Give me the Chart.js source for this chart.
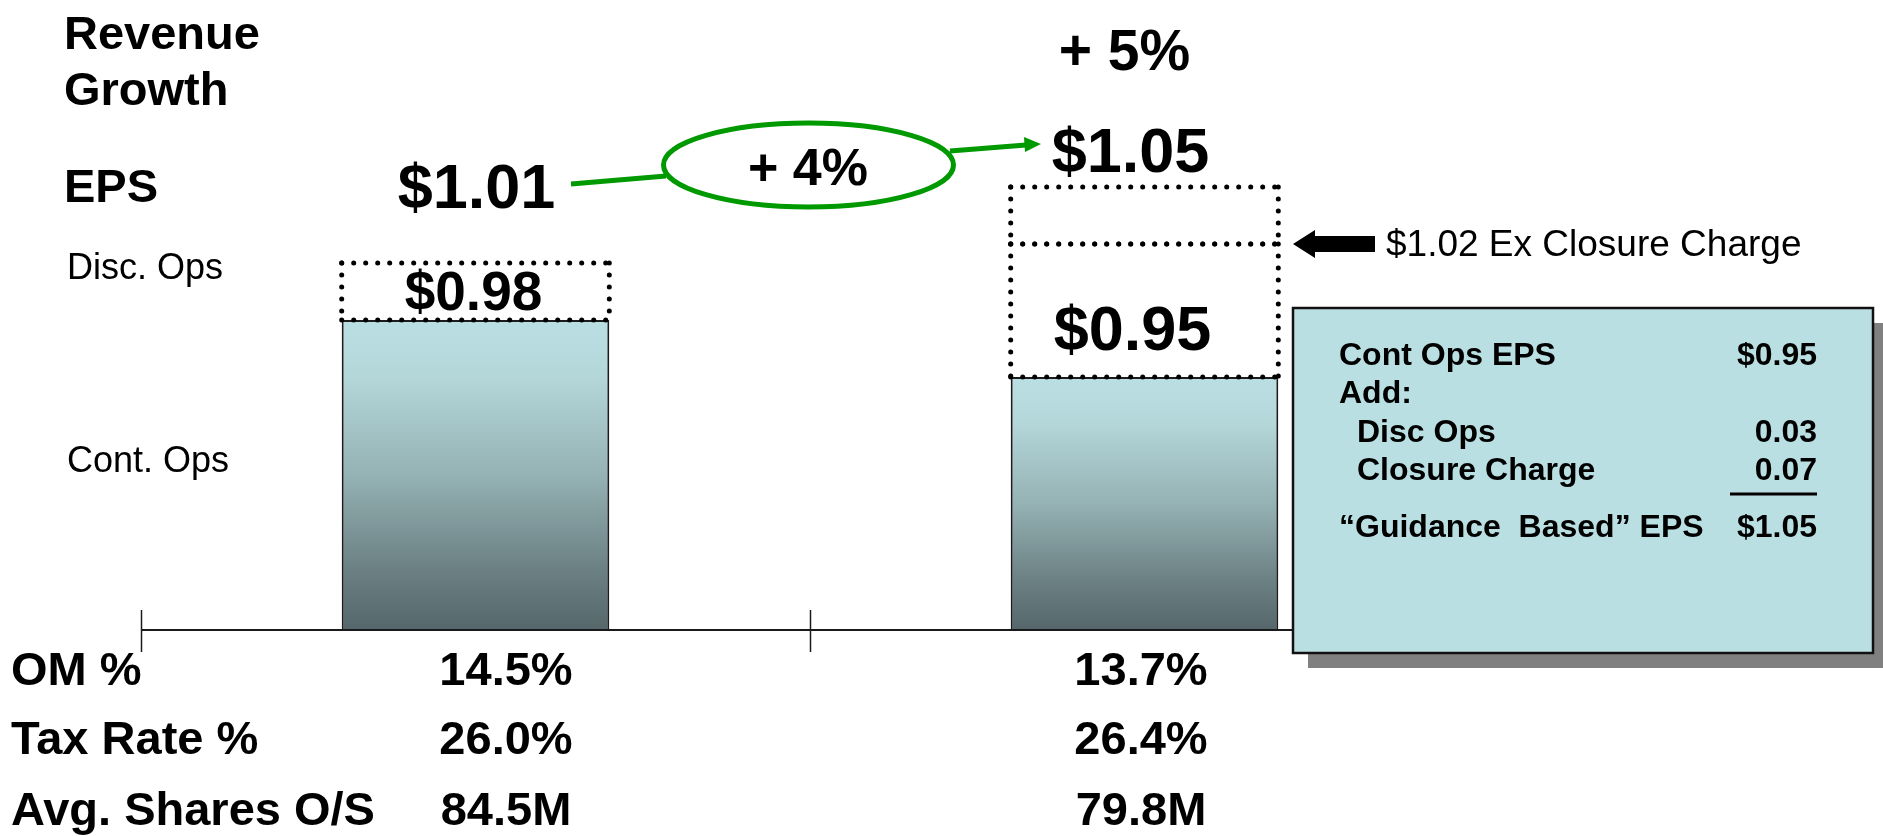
<!DOCTYPE html>
<html>
<head>
<meta charset="utf-8">
<title>EPS Bridge</title>
<script src="https://cdn.jsdelivr.net/npm/chart.js@4.4.1/dist/chart.umd.min.js"></script>
<style>
  html, body { margin: 0; padding: 0; background: #fff; overflow: hidden; }
  #chart-eps { display: block; }
</style>
</head>
<body>
<canvas id="chart-eps" width="1883" height="836"></canvas>
<script>
// ==========================================
// 1. Data
// ==========================================
const PERIODS = ['Prior Year', 'Guidance'];
const CONT_OPS = [0.98, 0.95];
const CLOSURE_CHARGE = [0, 0.07];
const DISC_OPS = [0.03, 0.03];

const REVENUE_GROWTH = ['', '+ 5%'];
const EPS_GROWTH = '+ 4%';

const ROW_LABELS = ['OM %', 'Tax Rate %', 'Avg. Shares O/S'];
const OM_PCT = ['14.5%', '13.7%'];
const TAX_RATE = ['26.0%', '26.4%'];
const AVG_SHARES = ['84.5M', '79.8M'];

// value axis is cut well above zero so the increments are visible
const Y_MIN = 0.8168;
const Y_MAX = 1.1484;

const FONT = '"Liberation Sans", Arial, Helvetica, sans-serif';
const money = v => '$' + v.toFixed(2);
const totals = PERIODS.map((_, i) => CONT_OPS[i] + CLOSURE_CHARGE[i] + DISC_OPS[i]);

// ==========================================
// 2. Drawing helpers
// ==========================================
function text(ctx, str, x, y, size, opts = {}) {
    ctx.font = `${opts.bold === false ? '' : 'bold '}${size}px ${FONT}`;
    ctx.textAlign = opts.align || 'left';
    ctx.textBaseline = 'alphabetic';
    ctx.fillStyle = opts.color || '#000';
    ctx.fillText(str, x, y);
}

function line(ctx, x1, y1, x2, y2) {
    ctx.beginPath();
    ctx.moveTo(x1, y1);
    ctx.lineTo(x2, y2);
    ctx.stroke();
}

function dottedBox(ctx, l, t, r, b) {
    ctx.save();
    ctx.strokeStyle = '#000';
    ctx.lineWidth = 5;
    ctx.lineCap = 'round';
    ctx.setLineDash([0, 12]);
    line(ctx, l, t, r, t);
    line(ctx, l, b, r, b);
    line(ctx, l, t, l, b);
    line(ctx, r, t, r, b);
    ctx.restore();
}

function barGradient(context) {
    const chart = context.chart;
    if (context.type !== 'data' || !chart.chartArea) return '#9ab8ba';
    const top = chart.scales.y.getPixelForValue(CONT_OPS[context.dataIndex]);
    const g = chart.ctx.createLinearGradient(0, top, 0, chart.chartArea.bottom);
    g.addColorStop(0, '#badfe2');
    g.addColorStop(0.18, '#b4d7da');
    g.addColorStop(0.5, '#95b2b4');
    g.addColorStop(0.8, '#6c8184');
    g.addColorStop(1, '#55676a');
    return g;
}

// ==========================================
// 3. Slide layer: axis, dotted increments, captions
// ==========================================
const slideLayer = {
    id: 'slideLayer',
    afterDatasetsDraw(chart) {
        const ctx = chart.ctx;
        const xs = chart.scales.x;
        const ys = chart.scales.y;
        const base = ys.bottom;
        const step = xs.getPixelForValue(1) - xs.getPixelForValue(0);

        // category axis with boundary ticks
        ctx.save();
        ctx.strokeStyle = '#1a1a1a';
        ctx.lineWidth = 2;
        line(ctx, xs.left, base, xs.right, base);
        ctx.lineWidth = 1.5;
        for (let i = 0; i <= PERIODS.length; i++) {
            const px = Math.round(xs.getPixelForValue(0) - step / 2 + i * step) + 0.5;
            line(ctx, px, base - 20, px, base + 22);
        }
        ctx.restore();

        // closure charge + disc ops segments are outlined with dots
        [1, 2].forEach(di => {
            chart.getDatasetMeta(di).data.forEach((bar, i) => {
                if (!chart.data.datasets[di].data[i]) return;
                const p = bar.getProps(['x', 'y', 'base', 'width'], true);
                dottedBox(ctx, p.x - p.width / 2, p.y, p.x + p.width / 2, p.base);
            });
        });

        // left captions
        text(ctx, 'Revenue', 64, 49, 47);
        text(ctx, 'Growth', 64, 105, 47);
        text(ctx, 'EPS', 64, 202, 47);
        text(ctx, 'Disc. Ops', 67, 279, 36, { bold: false });
        text(ctx, 'Cont. Ops', 67, 472, 36, { bold: false });

        // revenue growth
        REVENUE_GROWTH.forEach((g, i) => {
            if (g) text(ctx, g, xs.getPixelForValue(i) - 20, 70, 57, { align: 'center' });
        });

        // totals above each column
        const c0 = xs.getPixelForValue(0);
        const c1 = xs.getPixelForValue(1);
        text(ctx, money(totals[0]), c0 + 1, 208, 63, { align: 'center' });
        text(ctx, money(totals[1]), c1 - 14, 172, 63, { align: 'center' });

        // cont ops values inside the dotted frames
        const top0 = ys.getPixelForValue(totals[0]);
        const bar0 = ys.getPixelForValue(CONT_OPS[0]);
        text(ctx, money(CONT_OPS[0]), c0 - 2, (top0 + bar0) / 2 + 19, 55, { align: 'center' });
        text(ctx, money(CONT_OPS[1]), c1 - 12, 350, 63, { align: 'center' });

        // EPS growth callout
        ctx.save();
        ctx.strokeStyle = '#009900';
        ctx.fillStyle = '#009900';
        ctx.lineWidth = 5;
        line(ctx, 571, 184, 666, 176);
        line(ctx, 950, 151, 1026, 145);
        ctx.beginPath();
        ctx.moveTo(1041, 144);
        ctx.lineTo(1024, 137);
        ctx.lineTo(1025, 152);
        ctx.closePath();
        ctx.fill();
        ctx.beginPath();
        ctx.ellipse(808.5, 165, 145, 42, 0, 0, Math.PI * 2);
        ctx.stroke();
        ctx.restore();
        text(ctx, EPS_GROWTH, 808, 185, 52, { align: 'center' });

        // pointer to the ex-closure level
        const exClosure = CONT_OPS[1] + CLOSURE_CHARGE[1];
        const ay = Math.round(ys.getPixelForValue(exClosure));
        ctx.save();
        ctx.fillStyle = '#000';
        ctx.beginPath();
        ctx.moveTo(1293, ay);
        ctx.lineTo(1315, ay - 14);
        ctx.lineTo(1315, ay - 8);
        ctx.lineTo(1375, ay - 8);
        ctx.lineTo(1375, ay + 8);
        ctx.lineTo(1315, ay + 8);
        ctx.lineTo(1315, ay + 14);
        ctx.closePath();
        ctx.fill();
        ctx.restore();
        text(ctx, money(exClosure) + ' Ex Closure Charge', 1386, ay + 12, 37, { bold: false });

        // bottom metrics table
        const cols = [506, 1141];
        [OM_PCT, TAX_RATE, AVG_SHARES].forEach((row, r) => {
            const by = [685, 754, 825][r];
            text(ctx, ROW_LABELS[r], 11, by, 47);
            row.forEach((v, i) => text(ctx, v, cols[i], by, 47, { align: 'center' }));
        });

        // reconciliation panel
        ctx.save();
        ctx.fillStyle = '#808080';
        ctx.fillRect(1308, 323, 580, 345);
        ctx.fillStyle = '#badfe2';
        ctx.fillRect(1293, 308, 580, 345);
        ctx.strokeStyle = '#111';
        ctx.lineWidth = 2.5;
        ctx.strokeRect(1293, 308, 580, 345);
        ctx.restore();

        const rows = [
            ['Cont Ops EPS', money(CONT_OPS[1]), 0],
            ['Add:', '', 0],
            ['Disc Ops', DISC_OPS[1].toFixed(2), 18],
            ['Closure Charge', CLOSURE_CHARGE[1].toFixed(2), 18],
            ['\u201cGuidance  Based\u201d EPS', money(totals[1]), 0]
        ];
        const rowY = [365, 403, 442, 480, 537];
        rows.forEach(([label, value, indent], r) => {
            text(ctx, label, 1339 + indent, rowY[r], 32);
            if (value) text(ctx, value, 1817, rowY[r], 32, { align: 'right' });
        });
        ctx.save();
        ctx.strokeStyle = '#000';
        ctx.lineWidth = 3;
        line(ctx, 1730, 494, 1817, 494);
        ctx.restore();
    }
};

// ==========================================
// 4. Chart
// ==========================================
const chart = new Chart(document.getElementById('chart-eps'), {
    type: 'bar',
    data: {
        labels: PERIODS,
        datasets: [
            { label: 'Cont. Ops', data: CONT_OPS, base: Y_MIN, backgroundColor: barGradient, borderColor: '#1c1c1c', borderWidth: 2 },
            { label: 'Closure Charge', data: CLOSURE_CHARGE, backgroundColor: 'rgba(0,0,0,0)', borderWidth: 0 },
            { label: 'Disc. Ops', data: DISC_OPS, backgroundColor: 'rgba(0,0,0,0)', borderWidth: 0 }
        ]
    },
    options: {
        responsive: false,
        animation: false,
        events: [],
        layout: { padding: { left: 141, right: 404, top: 0, bottom: 206 } },
        datasets: { bar: { categoryPercentage: 1, barPercentage: 0.4 } },
        scales: {
            x: { display: false, stacked: true },
            y: { display: false, stacked: true, min: Y_MIN, max: Y_MAX }
        },
        plugins: { legend: { display: false }, tooltip: { enabled: false } }
    },
    plugins: [slideLayer]
});
</script>
</body>
</html>
